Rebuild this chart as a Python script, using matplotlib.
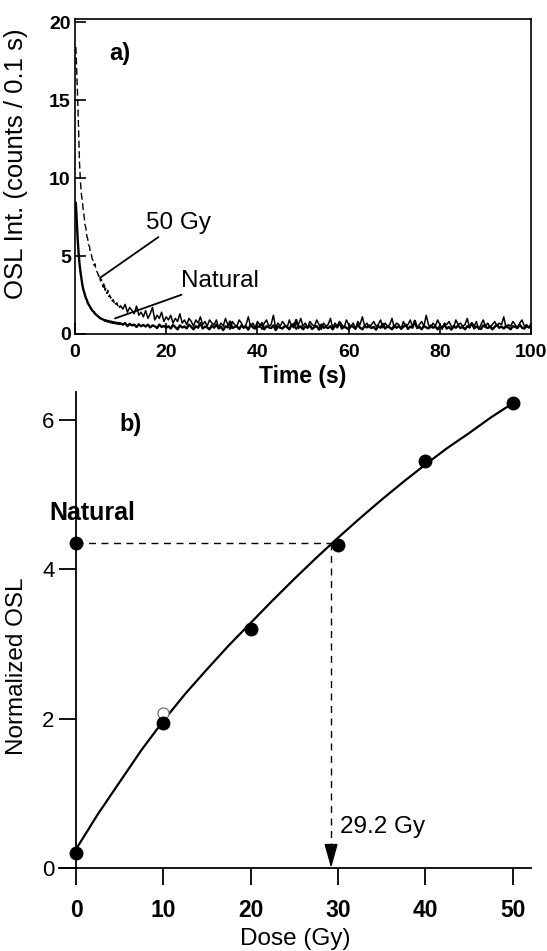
import numpy as np
import matplotlib
matplotlib.use("Agg")
import matplotlib.pyplot as plt

plt.rcParams["font.family"] = ["Liberation Sans", "DejaVu Sans"]

# panel a) OSL decay curves, early part read at 0.2 s, tail at 0.5 s
t_early = np.arange(1, 51) * 0.2
t_tail = 10.0 + np.arange(1, 181) * 0.5

gy50_early = [18.4, 16.8, 15.0, 13.1, 11.0, 9.8, 9.0, 8.6, 8.0, 7.6,
              7.0, 6.8, 6.3, 6.1, 5.7, 5.6, 5.2, 5.1, 4.8, 4.7,
              4.4, 4.5, 4.1, 4.0, 3.9, 3.7, 3.8, 3.4, 3.5, 3.2,
              3.0, 3.3, 2.8, 2.9, 2.6, 2.8, 2.4, 2.5, 2.3, 2.4,
              2.1, 2.2, 2.0, 2.1, 1.9, 2.0, 1.8, 1.9, 1.7, 1.8]
gy50_tail = [1.6, 1.9, 1.4, 1.7, 1.5, 1.3, 1.8, 1.2, 1.4, 1.1,
             1.5, 1.0, 1.3, 1.7, 0.9, 1.2, 1.0, 1.4, 0.8, 1.1,
             0.9, 1.2, 0.7, 1.0, 0.8, 1.3, 0.7, 0.9, 0.6, 1.0,
             0.8, 0.5, 0.9, 0.7, 1.1, 0.6, 0.8, 0.5, 0.9, 0.7,
             0.6, 0.9, 0.4, 0.7, 0.5, 1.0, 0.6, 0.3, 0.8, 0.6,
             0.5, 0.9, 0.7, 0.4, 0.6, 1.1, 0.5, 0.7, 0.4, 0.8,
             0.6, 0.3, 0.7, 0.9, 0.5, 0.6, 1.2, 0.4, 0.7, 0.5,
             0.8, 0.6, 0.4, 0.9, 0.5, 0.7, 0.3, 0.6, 1.0, 0.5,
             0.7, 0.4, 0.8, 0.6, 0.5, 0.9, 0.6, 0.3, 0.7, 0.5,
             0.6, 1.0, 0.4, 0.7, 0.5, 0.8, 0.6, 0.4, 0.9, 0.6,
             0.5, 0.7, 0.3, 0.8, 0.6, 1.1, 0.5, 0.7, 0.4, 0.6,
             0.8, 0.5, 0.6, 0.9, 0.4, 0.7, 0.5, 0.6, 1.0, 0.4,
             0.7, 0.6, 0.3, 0.8, 0.5, 0.6, 0.9, 0.5, 0.7, 0.4,
             0.6, 0.8, 0.5, 1.2, 0.6, 0.4, 0.7, 0.5, 0.9, 0.6,
             0.3, 0.7, 0.6, 0.8, 0.5, 0.4, 0.9, 0.6, 0.7, 0.5,
             0.6, 1.0, 0.4, 0.7, 0.5, 0.8, 0.3, 0.6, 0.9, 0.5,
             0.7, 0.4, 0.6, 0.8, 0.5, 0.7, 0.6, 1.1, 0.4, 0.6,
             0.5, 0.8, 0.6, 0.4, 0.7, 0.9, 0.5, 0.6, 0.4, 0.7]

nat_early = [8.4, 7.2, 6.1, 5.2, 4.5, 4.0, 3.6, 3.2, 2.9, 2.7,
             2.5, 2.3, 2.2, 2.0, 1.9, 1.8, 1.7, 1.6, 1.5, 1.45,
             1.4, 1.3, 1.25, 1.2, 1.15, 1.1, 1.05, 1.0, 0.98, 0.95,
             0.92, 0.9, 0.85, 0.88, 0.82, 0.8, 0.84, 0.78, 0.75, 0.8,
             0.72, 0.76, 0.7, 0.73, 0.68, 0.72, 0.66, 0.7, 0.64, 0.68]
nat_tail = [0.6, 0.7, 0.5, 0.65, 0.55, 0.6, 0.45, 0.62, 0.5, 0.58,
            0.48, 0.6, 0.42, 0.55, 0.5, 0.38, 0.6, 0.45, 0.52, 0.4,
            0.5, 0.35, 0.58, 0.44, 0.3, 0.55, 0.42, 0.48, 0.36, 0.6,
            0.45, 0.3, 0.5, 0.4, 0.7, 0.35, 0.48, 0.42, 0.3, 0.55,
            0.4, 0.6, 0.35, 0.45, 0.25, 0.5, 0.42, 0.8, 0.38, 0.45,
            0.5, 0.32, 0.55, 0.4, 0.48, 0.28, 0.6, 0.42, 0.35, 0.5,
            0.45, 0.7, 0.3, 0.5, 0.42, 0.38, 0.55, 0.25, 0.48, 0.4,
            0.35, 0.52, 0.45, 0.3, 0.6, 0.42, 0.9, 0.38, 0.5, 0.3,
            0.48, 0.4, 0.55, 0.32, 0.45, 0.5, 0.28, 0.6, 0.4, 0.45,
            0.38, 0.5, 0.3, 0.55, 0.42, 0.75, 0.35, 0.48, 0.4, 0.3,
            0.52, 0.45, 0.35, 0.6, 0.4, 0.3, 0.5, 0.42, 0.55, 0.38,
            0.45, 0.28, 0.5, 0.4, 0.65, 0.35, 0.48, 0.42, 0.3, 0.55,
            0.4, 0.5, 0.35, 0.45, 0.6, 0.32, 0.48, 0.4, 0.85, 0.38,
            0.45, 0.3, 0.52, 0.42, 0.36, 0.55, 0.4, 0.48, 0.3, 0.5,
            0.42, 0.6, 0.35, 0.45, 0.28, 0.5, 0.4, 0.55, 0.38, 0.45,
            0.3, 0.5, 0.42, 0.7, 0.36, 0.48, 0.4, 0.32, 0.55, 0.45,
            0.38, 0.5, 0.3, 0.45, 0.6, 0.4, 0.48, 0.35, 0.52, 0.42,
            0.3, 0.5, 0.45, 0.38, 0.6, 0.4, 0.35, 0.5, 0.42, 0.48]

# panel b) dose response
dose = [0, 10, 20, 30, 40, 50]
norm_osl = [0.2, 1.94, 3.2, 4.32, 5.44, 6.22]
recycle_dose = [10]
recycle_osl = [2.07]
natural_osl = 4.35
de_dose = 29.2

fit_dose = [0, 2.5, 5, 7.5, 10, 12.5, 15, 17.5, 20, 22.5, 25,
            27.5, 30, 32.5, 35, 37.5, 40, 42.5, 45, 47.5, 50]
fit_osl = [0.25, 0.72, 1.15, 1.58, 1.97, 2.33, 2.66, 2.98, 3.28, 3.58, 3.87,
           4.15, 4.42, 4.68, 4.93, 5.17, 5.4, 5.62, 5.82, 6.03, 6.22]

fig = plt.figure(figsize=(5.47, 9.51), dpi=100)

# ---- a) ----
ax1 = fig.add_axes([0.137, 0.6488, 0.834, 0.3312])
ax1.plot(t_early, gy50_early, color="k", lw=1.0, ls=(0, (5, 2.5)))
ax1.plot(np.concatenate([t_early[-1:], t_tail]), [gy50_early[-1]] + gy50_tail,
         color="k", lw=1.1)
ax1.plot(np.concatenate([t_early, t_tail]), nat_early + nat_tail,
         color="k", lw=1.7)
ax1.set_xlim(0, 100)
ax1.set_ylim(0, 20.2)
ax1.set_xticks([0, 20, 40, 60, 80, 100])
ax1.set_yticks([0, 5, 10, 15, 20])
ax1.tick_params(direction="in", length=8, width=1.2, labelsize=14, pad=3)
ax1.tick_params(axis="x", pad=7)
for lab in ax1.get_xticklabels() + ax1.get_yticklabels():
    lab.set_fontweight("bold")
for s in ax1.spines.values():
    s.set_linewidth(1.2)
ax1.set_xlabel("Time (s)", fontsize=16.5, fontweight="bold", labelpad=3)
ax1.set_ylabel("OSL Int. (counts / 0.1 s)", fontsize=18.5)
ax1.yaxis.set_label_coords(-0.102, 0.54)
ax1.annotate("50 Gy", xy=(5.5, 3.6), xytext=(15.5, 7.1), fontsize=17.5,
             va="center", ha="left",
             arrowprops=dict(arrowstyle="-", color="k", lw=1.3,
                             shrinkA=0, shrinkB=0))
ax1.annotate("Natural", xy=(8.8, 1.0), xytext=(23.3, 3.4), fontsize=17.5,
             va="center", ha="left",
             arrowprops=dict(arrowstyle="-", color="k", lw=1.3,
                             shrinkA=0, shrinkB=0))
ax1.text(7.5, 18.0, "a)", fontsize=17, fontweight="bold", va="center",
         family=["Liberation Sans Narrow", "Liberation Sans"])

# ---- b) ----
ax2 = fig.add_axes([0.107, 0.0873, 0.864, 0.5005])
ax2.set_xlim(-2.0, 52.1)
ax2.set_ylim(0, 6.37)
ax2.spines["top"].set_visible(False)
ax2.spines["right"].set_visible(False)
ax2.spines["left"].set_position(("data", 0))
for s in ax2.spines.values():
    s.set_linewidth(1.3)
ax2.set_xticks([0, 10, 20, 30, 40, 50])
ax2.set_yticks([0, 2, 4, 6])
ax2.tick_params(direction="out", length=12, width=1.3, labelsize=16)
ax2.tick_params(axis="x", labelsize=16.5, pad=10)
for lab in ax2.get_xticklabels():
    lab.set_fontweight("bold")
ax2.set_xlabel("Dose (Gy)", fontsize=17.5, labelpad=5)
ax2.set_ylabel("Normalized OSL", fontsize=17.5)
ax2.yaxis.set_label_coords(-0.065, 0.424)

ax2.plot(fit_dose, fit_osl, color="k", lw=1.6, zorder=2)
ax2.plot(dose, norm_osl, "o", color="k", ms=9, zorder=3, clip_on=False)
ax2.plot(recycle_dose, recycle_osl, "o", mfc="white", mec="0.45", mew=0.9,
         ms=8, zorder=2.5)
ax2.plot([0], [natural_osl], "o", color="k", ms=9, zorder=3, clip_on=False)

ax2.plot([0, de_dose], [natural_osl, natural_osl], color="k", lw=1.0,
         ls=(0, (5, 4)))
ax2.plot([de_dose, de_dose], [natural_osl, 0.25], color="k", lw=1.0,
         ls=(0, (5, 4)))
ax2.annotate("", xy=(de_dose, 0), xytext=(de_dose, 0.3),
             arrowprops=dict(arrowstyle="-|>,head_length=1.5,head_width=0.42",
                             color="k", lw=1.0, shrinkA=0, shrinkB=0))
ax2.text(30.2, 0.55, "29.2 Gy", fontsize=17.5, va="center", ha="left")
ax2.text(-3.0, 4.75, "Natural", fontsize=18, fontweight="bold", va="center",
         ha="left", clip_on=False)
ax2.text(5.0, 5.94, "b)", fontsize=17, fontweight="bold", va="center",
         family=["Liberation Sans Narrow", "Liberation Sans"])

fig.savefig("out.png", dpi=100)
